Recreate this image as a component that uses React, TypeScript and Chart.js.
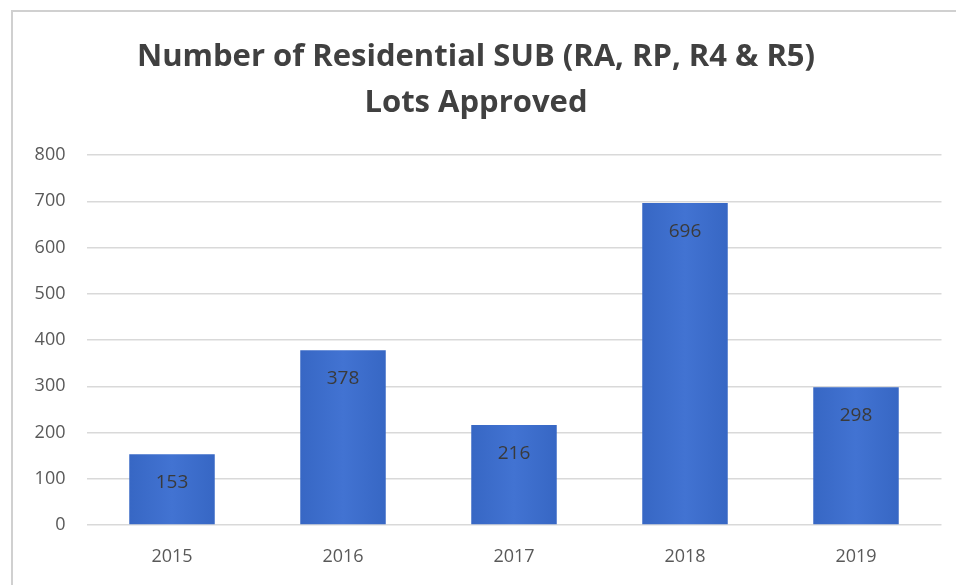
import React, { useEffect, useRef } from "react";
import { Chart, registerables } from "chart.js";

Chart.register(...registerables);

const categories: string[] = ["2015", "2016", "2017", "2018", "2019"];
const lotsApproved: number[] = [153, 378, 216, 696, 298];
const titleLines: string[] = ["Number of Residential SUB (RA, RP, R4 & R5)", "Lots Approved"];
const yMin = 0;
const yMax = 800;
const yStep = 100;

const FONT = "'Open Sans', 'Noto Sans', sans-serif";

export default function App() {
  const ref = useRef<HTMLCanvasElement | null>(null);

  useEffect(() => {
    document.body.style.margin = "0";
    const canvas = ref.current;
    if (!canvas) return;

    const framePlugin = {
      id: "frame",
      beforeDraw(chart: any) {
        const ctx = chart.ctx;
        ctx.save();
        ctx.fillStyle = "#ffffff";
        ctx.fillRect(0, 0, chart.width, chart.height);
        ctx.strokeStyle = "#d0d0d0";
        ctx.lineWidth = 2;
        ctx.beginPath();
        ctx.moveTo(12, chart.height);
        ctx.lineTo(12, 11);
        ctx.lineTo(956, 11);
        ctx.stroke();
        ctx.restore();
      },
      afterDraw(chart: any) {
        const ctx = chart.ctx;
        ctx.save();
        ctx.fillStyle = "#404040";
        ctx.font = `bold 31px ${FONT}`;
        ctx.textAlign = "center";
        ctx.textBaseline = "alphabetic";
        ctx.fillText(titleLines[0], 476, 66);
        ctx.fillText(titleLines[1], 476, 112);
        const meta = chart.getDatasetMeta(0);
        ctx.textBaseline = "middle";
        ctx.font = `19px ${FONT}`;
        ctx.fillStyle = "#3a3a3a";
        meta.data.forEach((bar: any, i: number) => {
          ctx.fillText(String(lotsApproved[i]), bar.x, bar.y + 28);
        });
        ctx.restore();
      },
    };

    const chart = new Chart(canvas, {
      type: "bar",
      data: {
        labels: categories,
        datasets: [
          {
            data: lotsApproved,
            backgroundColor: (c: any) => {
              const ch = c.chart;
              const area = ch.chartArea;
              const xs = ch.scales && ch.scales.x;
              if (!area || !xs || c.dataIndex === undefined) return "#3F6FCF";
              const cx = xs.getPixelForValue(c.dataIndex);
              const w = (area.right - area.left) / categories.length / 2;
              if (!isFinite(cx) || !isFinite(w)) return "#3F6FCF";
              const g = ch.ctx.createLinearGradient(cx - w / 2, 0, cx + w / 2, 0);
              g.addColorStop(0, "#3767C4");
              g.addColorStop(0.5, "#4273D2");
              g.addColorStop(1, "#3767C4");
              return g;
            },
            borderWidth: 0,
            barPercentage: 0.5,
            categoryPercentage: 1,
          },
        ],
      },
      options: {
        responsive: false,
        animation: false,
        events: [],
        layout: { padding: { left: 0, right: 17.5, top: 155, bottom: 0 } },
        plugins: {
          legend: { display: false },
          title: { display: false },
          tooltip: { enabled: false },
        },
        scales: {
          x: {
            grid: { display: false, drawTicks: false },
            border: { display: false },
            ticks: { color: "#595959", font: { family: FONT, size: 18 }, padding: 21 },
            afterFit: (s: any) => {
              s.height = 60;
            },
          },
          y: {
            min: yMin,
            max: yMax,
            grid: { color: "#d9d9d9", lineWidth: 1.5, drawTicks: false },
            border: { display: false },
            ticks: {
              stepSize: yStep,
              color: "#595959",
              font: { family: FONT, size: 18 },
              padding: 21,
            },
            afterFit: (s: any) => {
              s.width = 86.5;
            },
          },
        },
      },
      plugins: [framePlugin],
    });

    return () => chart.destroy();
  }, []);

  return <canvas ref={ref} width={959} height={585} style={{ display: "block" }} />;
}
